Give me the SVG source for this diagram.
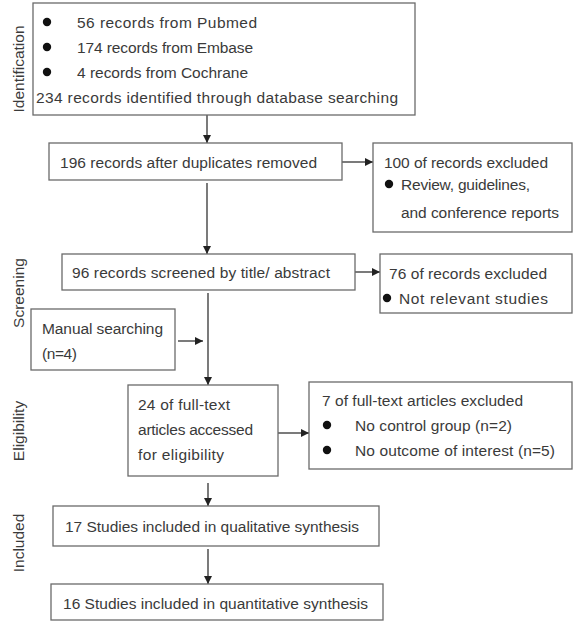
<svg xmlns="http://www.w3.org/2000/svg" width="579" height="625" viewBox="0 0 579 625">
<defs>
<marker id="ah" viewBox="0 0 10 10" refX="10" refY="5" markerWidth="8" markerHeight="8" markerUnits="userSpaceOnUse" orient="auto">
<path d="M0,0 L10,5 L0,10 Z" fill="#222"/>
</marker>
<style>
.box{fill:#fff;stroke:#6a6a6a;stroke-width:1.3}
.t{font-family:"Liberation Sans",Arial,sans-serif;font-size:15.5px;fill:#3a3a3a}
.lab{font-family:"Liberation Sans",Arial,sans-serif;font-size:15.5px;fill:#3a3a3a;text-anchor:middle}
.b{fill:#111}
.c{stroke:#333;stroke-width:1.3;fill:none;marker-end:url(#ah)}
</style>
</defs>
<rect width="579" height="625" fill="#fff"/>
<g id="labels">
<text class="lab" transform="translate(24,69) rotate(-90)">Identification</text>
<text class="lab" transform="translate(24,293) rotate(-90)">Screening</text>
<text class="lab" transform="translate(24,431) rotate(-90)">Eligibility</text>
<text class="lab" transform="translate(24,543) rotate(-90)">Included</text>
</g>
<g id="connectors">
<line class="c" x1="207" y1="115" x2="207" y2="143"/>
<line class="c" x1="342" y1="162" x2="373" y2="162"/>
<line class="c" x1="207" y1="183" x2="207" y2="254"/>
<line class="c" x1="355" y1="272" x2="380" y2="272"/>
<line class="c" x1="208" y1="293" x2="208" y2="385"/>
<line class="c" x1="178" y1="341" x2="203" y2="341"/>
<line class="c" x1="278" y1="433" x2="309" y2="433"/>
<line class="c" x1="208" y1="483" x2="208" y2="506"/>
<line class="c" x1="208" y1="549" x2="208" y2="584"/>
</g>
<g id="n1">
<rect class="box" x="33" y="3" width="382" height="112"/>
<circle class="b" cx="47" cy="22" r="4.2"/>
<circle class="b" cx="47" cy="47" r="4.2"/>
<circle class="b" cx="47" cy="72" r="4.2"/>
<text class="t" x="77" y="27.5" textLength="180">56 records from Pubmed</text>
<text class="t" x="77" y="52.5" textLength="176">174 records from Embase</text>
<text class="t" x="77" y="77.5" textLength="171">4 records from Cochrane</text>
<text class="t" x="36" y="102.5" textLength="362">234 records identified through database searching</text>
</g>
<g id="n2">
<rect class="box" x="49" y="143" width="293" height="37"/>
<text class="t" x="60" y="167.5" textLength="257">196 records after duplicates removed</text>
</g>
<g id="n3">
<rect class="box" x="373" y="143" width="199" height="89"/>
<text class="t" x="384" y="167.5" textLength="164">100 of records excluded</text>
<circle class="b" cx="389" cy="184" r="4.2"/>
<text class="t" x="401" y="189.5" textLength="129">Review, guidelines,</text>
<text class="t" x="401" y="217.5" textLength="158">and conference reports</text>
</g>
<g id="n4">
<rect class="box" x="62" y="254" width="293" height="36"/>
<text class="t" x="72" y="277.5" textLength="258">96 records screened by title/ abstract</text>
</g>
<g id="n5">
<rect class="box" x="380" y="254" width="192" height="59"/>
<text class="t" x="389" y="278.5" textLength="158">76 of records excluded</text>
<circle class="b" cx="387" cy="298" r="4.2"/>
<text class="t" x="399" y="303.5" textLength="149">Not relevant  studies</text>
</g>
<g id="n6">
<rect class="box" x="31" y="309" width="144" height="61"/>
<text class="t" x="42" y="333.5" textLength="121">Manual searching</text>
<text class="t" x="42" y="358.5" textLength="35">(n=4)</text>
</g>
<g id="n7">
<rect class="box" x="128" y="385" width="150" height="91"/>
<text class="t" x="138" y="409.5" textLength="92">24 of full-text</text>
<text class="t" x="138" y="434.5" textLength="115">articles accessed</text>
<text class="t" x="138" y="459.5" textLength="86">for eligibility</text>
</g>
<g id="n8">
<rect class="box" x="309" y="382" width="263" height="87"/>
<text class="t" x="322" y="405.5" textLength="201">7 of full-text articles excluded</text>
<circle class="b" cx="327" cy="425" r="4.2"/>
<circle class="b" cx="327" cy="450" r="4.2"/>
<text class="t" x="355" y="430.5" textLength="157">No control group (n=2)</text>
<text class="t" x="355" y="455.5" textLength="200">No outcome of interest (n=5)</text>
</g>
<g id="n9">
<rect class="box" x="53" y="506" width="326" height="40"/>
<text class="t" x="65" y="531.5" textLength="294">17 Studies included in qualitative synthesis</text>
</g>
<g id="n10">
<rect class="box" x="51" y="584" width="332" height="36"/>
<text class="t" x="63" y="608.5" textLength="305">16 Studies included in quantitative synthesis</text>
</g>
</svg>
